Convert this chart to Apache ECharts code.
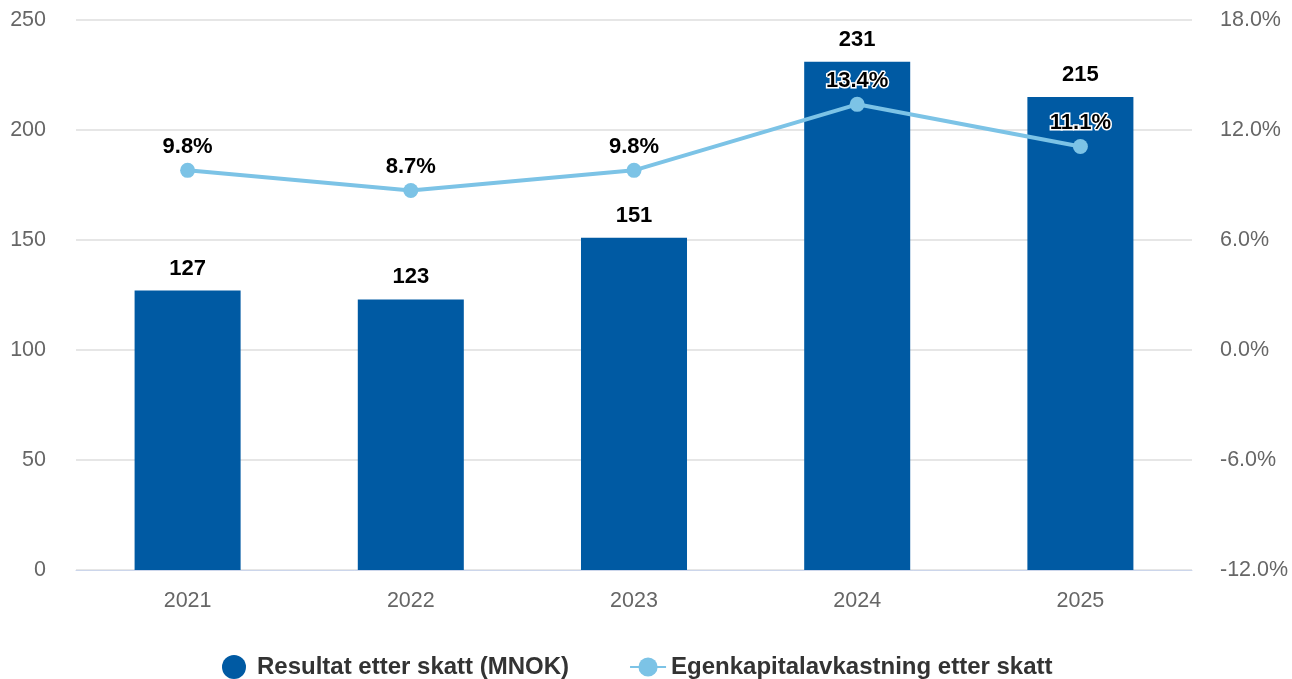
<!DOCTYPE html>
<html><head><meta charset="utf-8">
<script src="https://cdn.jsdelivr.net/npm/echarts@6/dist/echarts.min.js"></script>
<style>html,body{margin:0;padding:0;background:#fff}#c{width:1292px;height:679px}</style>
</head><body><div id="c"></div>
<script>
const categories = ['2021','2022','2023','2024','2025'];
const resultValues = [127, 123, 151, 231, 215];
const roeValues = [9.8, 8.7, 9.8, 13.4, 11.1];
const seriesNames = ['Resultat etter skatt (MNOK)', 'Egenkapitalavkastning etter skatt'];

const chart = echarts.init(document.getElementById('c'));
const font = '"Liberation Sans", Arial, sans-serif';
chart.setOption({
  animation: false,
  grid: {left: 76, right: 100, top: 20, bottom: 109},
  legend: {
    left: 217, bottom: -5, itemGap: 60, itemWidth: 36, itemHeight: 24,
    textStyle: {fontFamily: font, fontSize: 24, fontWeight: 'bold', color: '#333'},
    data: [{name: seriesNames[0], icon: 'circle'}, {name: seriesNames[1]}]
  },
  xAxis: {
    type: 'category', data: categories,
    axisLine: {lineStyle: {color: '#ccd6eb'}}, axisTick: {show: false},
    axisLabel: {fontFamily: font, fontSize: 21.5, color: '#666', margin: 20}
  },
  yAxis: [{
    type: 'value', min: 0, max: 250, interval: 50,
    axisLabel: {fontFamily: font, fontSize: 21.5, color: '#666', margin: 30},
    splitLine: {lineStyle: {color: '#e6e6e6', width: 2}}
  }, {
    type: 'value', min: -12, max: 18, interval: 6,
    axisLabel: {fontFamily: font, fontSize: 21.5, color: '#666', margin: 28, formatter: v => v.toFixed(1) + '%'},
    splitLine: {show: false}
  }],
  series: [{
    name: seriesNames[0], type: 'bar', data: resultValues, barWidth: '47.5%',
    itemStyle: {color: '#005aa3'},
    label: {show: true, position: 'top', distance: 11, fontFamily: font, fontSize: 22, fontWeight: 'bold', color: '#000'}
  }, {
    name: seriesNames[1], type: 'line', yAxisIndex: 1, data: roeValues,
    symbol: 'circle', symbolSize: 15,
    lineStyle: {color: '#7cc3e6', width: 4}, itemStyle: {color: '#7cc3e6'},
    label: {show: true, position: 'top', distance: 5, fontFamily: font, fontSize: 22, fontWeight: 'bold', color: '#000',
      textBorderColor: '#fff', textBorderWidth: 3, formatter: p => p.value.toFixed(1) + '%'}
  }]
});
</script></body></html>
